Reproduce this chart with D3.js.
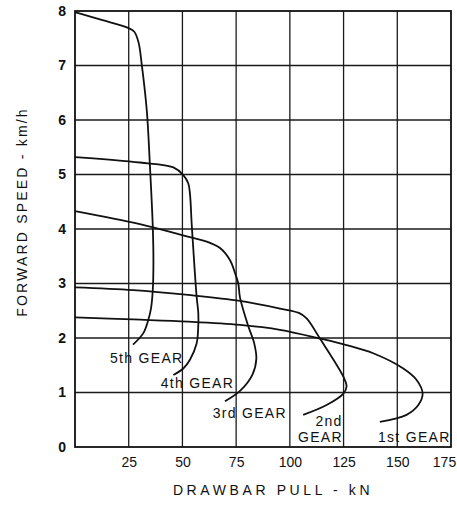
<!DOCTYPE html>
<html>
<head>
<meta charset="utf-8">
<script src="https://cdn.jsdelivr.net/npm/d3@7"></script>
<style>
  body { margin: 0; background: #fff; }
  svg text { font-family: "Liberation Sans", Arial, sans-serif; fill: #111; }
</style>
</head>
<body>
<div id="chart"></div>
<script>
// curves: [drawbar pull kN, speed km/h]
const gear5 = [[0,7.98],[12,7.84],[24.7,7.69],[27.6,7.62],[29.6,7.42],[31,7.04],[33.4,6.18],[34.9,5.14],[36.2,4.04],[36.5,3.4],[36.2,2.88],[35.4,2.55],[34.1,2.33],[31.8,2.09],[27,1.88]];
const gear4 = [[0,5.32],[30.2,5.22],[45.8,5.13],[50.4,4.99],[52.7,4.84],[53.5,4.65],[54.3,4.1],[55.1,3.61],[56.6,2.76],[57.4,2.45],[57.3,2.15],[56.6,1.9],[53.5,1.6],[50.4,1.44],[45.8,1.32]];
const gear3 = [[0,4.33],[30.2,4.09],[53.5,3.85],[61.3,3.77],[67.5,3.65],[72.1,3.43],[74.5,3.19],[76,3.0],[76.8,2.74],[80.7,2.21],[83.3,1.92],[84.4,1.62],[82.6,1.33],[76.8,1.03],[69.8,0.84]];
const gear2 = [[0,2.93],[27.1,2.88],[52.7,2.79],[76.8,2.68],[95.4,2.54],[104.2,2.46],[107.8,2.36],[114,1.99],[124.9,1.29],[126.4,1.11],[124.9,0.98],[117.1,0.77],[106.2,0.59]];
const gear1 = [[0,2.38],[27.1,2.34],[52.7,2.3],[76.8,2.24],[95.4,2.15],[114,1.99],[126.4,1.87],[138.8,1.72],[152.8,1.44],[159,1.23],[161.8,0.98],[159.8,0.77],[154.3,0.59],[141.9,0.46]];

const xTicks = [25, 50, 75, 100, 125, 150, 175];
const yTicks = [0, 1, 2, 3, 4, 5, 6, 7, 8];

// gear labels: text, left x (kN), baseline (km/h)
const labels = [
  ["5th GEAR", 16.3, 1.54],
  ["4th GEAR", 39.9, 1.09],
  ["3rd GEAR", 64.1, 0.54],
  ["2nd", 111.9, 0.39],
  ["GEAR", 103.8, 0.09],
  ["1st GEAR", 141, 0.09]
];

const width = 457, height = 505;
const margin = {top: 11, right: 6, bottom: 58, left: 75};

const svg = d3.select('#chart').append('svg')
  .attr('width', width)
  .attr('height', height);

const x = d3.scaleLinear().domain([0, 175]).range([margin.left, width - margin.right]);
const y = d3.scaleLinear().domain([0, 8]).range([height - margin.bottom, margin.top]);

// grid
svg.append('g')
  .selectAll('line')
  .data(xTicks.slice(0, -1))
  .join('line')
  .attr('x1', d => x(d)).attr('x2', d => x(d))
  .attr('y1', y(0)).attr('y2', y(8))
  .attr('stroke', '#1a1a1a').attr('stroke-width', 1.3);

svg.append('g')
  .selectAll('line')
  .data(yTicks.slice(1, -1))
  .join('line')
  .attr('x1', x(0)).attr('x2', x(175))
  .attr('y1', d => y(d)).attr('y2', d => y(d))
  .attr('stroke', '#1a1a1a').attr('stroke-width', 1.3);

// frame
svg.append('rect')
  .attr('x', x(0)).attr('y', y(8))
  .attr('width', x(175) - x(0)).attr('height', y(0) - y(8))
  .attr('fill', 'none').attr('stroke', '#111').attr('stroke-width', 1.8);

// axes (labels only, the frame/grid do the lines)
const xAxis = d3.axisBottom(x).tickValues(xTicks).tickSize(0).tickPadding(10);
svg.append('g')
  .attr('transform', `translate(0,${y(0)})`)
  .call(xAxis)
  .call(g => g.select('.domain').remove())
  .selectAll('text')
  .attr('font-size', 14).attr('font-family', '"Liberation Sans", Arial, sans-serif').attr('fill', '#111')
  .attr('dx', d => d === 175 ? -7 : 0);

const yAxis = d3.axisLeft(y).tickValues(yTicks).tickSize(0).tickPadding(9);
svg.append('g')
  .attr('transform', `translate(${x(0)},0)`)
  .call(yAxis)
  .call(g => g.select('.domain').remove())
  .selectAll('text')
  .attr('font-size', 14).attr('font-weight', 'bold').attr('font-family', '"Liberation Sans", Arial, sans-serif').attr('fill', '#111');

// curves
const line = d3.line()
  .x(d => x(d[0]))
  .y(d => y(d[1]))
  .curve(d3.curveCatmullRom.alpha(0.5));

svg.append('g')
  .selectAll('path')
  .data([gear5, gear4, gear3, gear2, gear1])
  .join('path')
  .attr('d', line)
  .attr('fill', 'none')
  .attr('stroke', '#111')
  .attr('stroke-width', 1.8);

// gear labels
svg.append('g')
  .selectAll('text')
  .data(labels)
  .join('text')
  .attr('x', d => x(d[1]))
  .attr('y', d => y(d[2]))
  .attr('font-size', 14)
  .attr('letter-spacing', 1.3)
  .text(d => d[0]);

// axis titles
svg.append('text')
  .attr('x', 273)
  .attr('y', 495)
  .attr('text-anchor', 'middle')
  .attr('font-size', 14)
  .attr('letter-spacing', 3.6)
  .text('DRAWBAR PULL - kN');

svg.append('text')
  .attr('transform', `translate(27,${(y(0) + y(8)) / 2 - 17}) rotate(-90)`)
  .attr('text-anchor', 'middle')
  .attr('font-size', 14)
  .attr('letter-spacing', 2.2)
  .text('FORWARD  SPEED - km/h');
</script>
</body>
</html>
